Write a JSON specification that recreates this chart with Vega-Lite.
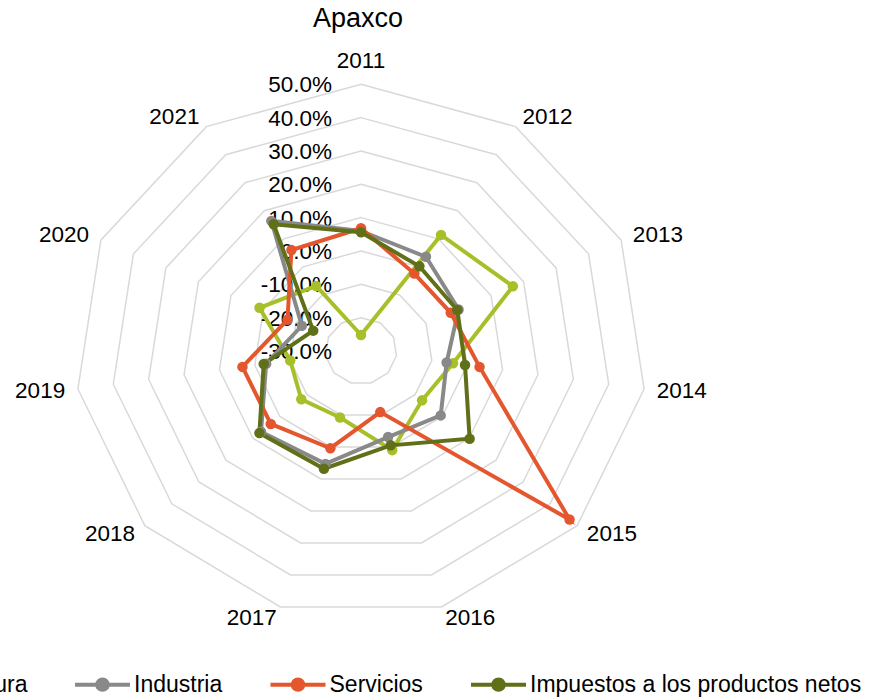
{
  "$schema": "https://vega.github.io/schema/vega-lite/v6.json",
  "width": 872,
  "height": 700,
  "autosize": "none",
  "padding": 0,
  "background": "white",
  "title": {
    "text": "Apaxco",
    "fontSize": 27,
    "font": "Liberation Sans",
    "fontWeight": "normal",
    "color": "#000000",
    "anchor": "middle",
    "frame": "group",
    "offset": 0,
    "baseline": "alphabetic",
    "dy": 54,
    "dx": -78
  },
  "config": {"view": {"stroke": null}},
  "datasets": {
    "growth": [
      {"year": 2011, "serie": "Agricultura", "value": -0.252},
      {"year": 2012, "serie": "Agricultura", "value": 0.114},
      {"year": 2013, "serie": "Agricultura", "value": 0.167},
      {"year": 2014, "serie": "Agricultura", "value": -0.04},
      {"year": 2015, "serie": "Agricultura", "value": -0.074},
      {"year": 2016, "serie": "Agricultura", "value": 0.01},
      {"year": 2017, "serie": "Agricultura", "value": -0.092},
      {"year": 2018, "serie": "Agricultura", "value": -0.079},
      {"year": 2019, "serie": "Agricultura", "value": -0.1},
      {"year": 2020, "serie": "Agricultura", "value": 0.012},
      {"year": 2021, "serie": "Agricultura", "value": -0.068},
      {"year": 2011, "serie": "Industria", "value": 0.06},
      {"year": 2012, "serie": "Industria", "value": 0.036},
      {"year": 2013, "serie": "Industria", "value": 0.0},
      {"year": 2014, "serie": "Industria", "value": -0.058},
      {"year": 2015, "serie": "Industria", "value": -0.005},
      {"year": 2016, "serie": "Industria", "value": -0.031},
      {"year": 2017, "serie": "Industria", "value": 0.053},
      {"year": 2018, "serie": "Industria", "value": 0.07},
      {"year": 2019, "serie": "Industria", "value": -0.032},
      {"year": 2020, "serie": "Industria", "value": -0.118},
      {"year": 2021, "serie": "Industria", "value": 0.164},
      {"year": 2011, "serie": "Servicios", "value": 0.068},
      {"year": 2012, "serie": "Servicios", "value": -0.024},
      {"year": 2013, "serie": "Servicios", "value": -0.024},
      {"year": 2014, "serie": "Servicios", "value": 0.035},
      {"year": 2015, "serie": "Servicios", "value": 0.472},
      {"year": 2016, "serie": "Servicios", "value": -0.109},
      {"year": 2017, "serie": "Servicios", "value": 0.004},
      {"year": 2018, "serie": "Servicios", "value": 0.034},
      {"year": 2019, "serie": "Servicios", "value": 0.035},
      {"year": 2020, "serie": "Servicios", "value": -0.074},
      {"year": 2021, "serie": "Servicios", "value": 0.06},
      {"year": 2011, "serie": "Impuestos a los productos netos", "value": 0.056},
      {"year": 2012, "serie": "Impuestos a los productos netos", "value": 0.002},
      {"year": 2013, "serie": "Impuestos a los productos netos", "value": -0.004},
      {"year": 2014, "serie": "Impuestos a los productos netos", "value": -0.006},
      {"year": 2015, "serie": "Impuestos a los productos netos", "value": 0.102},
      {"year": 2016, "serie": "Impuestos a los productos netos", "value": -0.005},
      {"year": 2017, "serie": "Impuestos a los productos netos", "value": 0.068},
      {"year": 2018, "serie": "Impuestos a los productos netos", "value": 0.076},
      {"year": 2019, "serie": "Impuestos a los productos netos", "value": -0.025},
      {"year": 2020, "serie": "Impuestos a los productos netos", "value": -0.153},
      {"year": 2021, "serie": "Impuestos a los productos netos", "value": 0.152}
    ],
    "ticks": [
      {"level": -0.3}, {"level": -0.2}, {"level": -0.1}, {"level": 0.0},
      {"level": 0.1}, {"level": 0.2}, {"level": 0.3}, {"level": 0.4}, {"level": 0.5}
    ]
  },
  "encoding": {
    "x": {"field": "x", "type": "quantitative", "scale": {"domain": [-1, 1], "range": [75, 647], "nice": false, "zero": false}, "axis": null},
    "y": {"field": "y", "type": "quantitative", "scale": {"domain": [-1, 1], "range": [617.7, 84.3], "nice": false, "zero": false}, "axis": null}
  },
  "layer": [
    {
      "data": {"name": "ticks"},
      "transform": [
        {"filter": "datum.level > -0.3"},
        {"calculate": "sequence(0, 11)", "as": "idx"},
        {"flatten": ["idx"]},
        {"calculate": "(datum.level + 0.3) / 0.8", "as": "r"},
        {"calculate": "datum.r * sin(datum.idx * 2 * PI / 11)", "as": "x"},
        {"calculate": "datum.r * cos(datum.idx * 2 * PI / 11)", "as": "y"}
      ],
      "mark": {"type": "line", "interpolate": "linear-closed", "stroke": "#d9d9d9", "strokeWidth": 1.5},
      "encoding": {
        "detail": {"field": "level", "type": "nominal"},
        "order": {"field": "idx", "type": "quantitative"}
      }
    },
    {
      "data": {"name": "ticks"},
      "transform": [
        {"calculate": "(datum.level + 0.3) / 0.8", "as": "y"},
        {"calculate": "0", "as": "x"},
        {"calculate": "replace(format(datum.level, '.1%'), '\u2212', '-')", "as": "label"}
      ],
      "mark": {"type": "text", "align": "right", "baseline": "middle", "dx": -29, "dy": 1, "fontSize": 22.5, "font": "Liberation Sans", "color": "#000000"},
      "encoding": {"text": {"field": "label", "type": "nominal"}}
    },
    {
      "data": {"name": "growth"},
      "transform": [
        {"aggregate": [{"op": "count", "as": "n"}], "groupby": ["year"]},
        {"calculate": "datum.year - 2011", "as": "idx"},
        {"filter": "datum.idx == 0"},
        {"calculate": "1.06 * sin(datum.idx * 2 * PI / 11)", "as": "x"},
        {"calculate": "1.06 * cos(datum.idx * 2 * PI / 11)", "as": "y"}
      ],
      "mark": {"type": "text", "align": "center", "baseline": "alphabetic", "fontSize": 22.5, "font": "Liberation Sans", "color": "#000000"},
      "encoding": {"text": {"field": "year", "type": "nominal"}}
    },
    {
      "data": {"name": "growth"},
      "transform": [
        {"aggregate": [{"op": "count", "as": "n"}], "groupby": ["year"]},
        {"calculate": "datum.year - 2011", "as": "idx"},
        {"filter": "datum.idx >= 1 && datum.idx <= 5"},
        {"calculate": "1.045 * sin(datum.idx * 2 * PI / 11)", "as": "x"},
        {"calculate": "1.045 * cos(datum.idx * 2 * PI / 11)", "as": "y"}
      ],
      "mark": {"type": "text", "align": "left", "baseline": "middle", "fontSize": 22.5, "font": "Liberation Sans", "color": "#000000"},
      "encoding": {"text": {"field": "year", "type": "nominal"}}
    },
    {
      "data": {"name": "growth"},
      "transform": [
        {"aggregate": [{"op": "count", "as": "n"}], "groupby": ["year"]},
        {"calculate": "datum.year - 2011", "as": "idx"},
        {"filter": "datum.idx >= 6"},
        {"calculate": "1.045 * sin(datum.idx * 2 * PI / 11)", "as": "x"},
        {"calculate": "1.045 * cos(datum.idx * 2 * PI / 11)", "as": "y"}
      ],
      "mark": {"type": "text", "align": "right", "baseline": "middle", "fontSize": 22.5, "font": "Liberation Sans", "color": "#000000"},
      "encoding": {"text": {"field": "year", "type": "nominal"}}
    },
    {
      "data": {"name": "growth"},
      "transform": [
        {"calculate": "datum.year - 2011", "as": "idx"},
        {"calculate": "(datum.value + 0.3) / 0.8", "as": "r"},
        {"calculate": "datum.r * sin(datum.idx * 2 * PI / 11)", "as": "x"},
        {"calculate": "datum.r * cos(datum.idx * 2 * PI / 11)", "as": "y"}
      ],
      "encoding": {
        "color": {
          "field": "serie",
          "type": "nominal",
          "scale": {
            "domain": ["Agricultura", "Industria", "Servicios", "Impuestos a los productos netos"],
            "range": ["#a8bf2a", "#898989", "#e4572e", "#5f7019"]
          },
          "legend": {
            "orient": "none",
            "legendX": -143.5,
            "legendY": 655,
            "direction": "horizontal",
            "title": null,
            "symbolType": "M-1,0L1,0M-0.19,0A0.19,0.19,0,1,0,0.19,0A0.19,0.19,0,1,0,-0.19,0Z",
            "symbolSize": 3025,
            "symbolStrokeWidth": 4,
            "labelFontSize": 23,
            "labelFont": "Liberation Sans",
            "labelColor": "#000000",
            "labelOffset": 2,
            "columnPadding": 39.5,
            "labelLimit": 600,
            "padding": 0,
            "encode": {
              "symbols": {
                "update": {
                  "fill": {"scale": "color", "field": "value"},
                  "stroke": {"scale": "color", "field": "value"},
                  "strokeWidth": {"value": 4},
                  "opacity": {"value": 1}
                }
              }
            }
          }
        }
      },
      "layer": [
        {
          "mark": {"type": "line", "interpolate": "linear-closed", "strokeWidth": 4},
          "encoding": {"order": {"field": "idx", "type": "quantitative"}}
        },
        {
          "mark": {"type": "circle", "size": 110, "opacity": 1}
        }
      ]
    }
  ]
}
